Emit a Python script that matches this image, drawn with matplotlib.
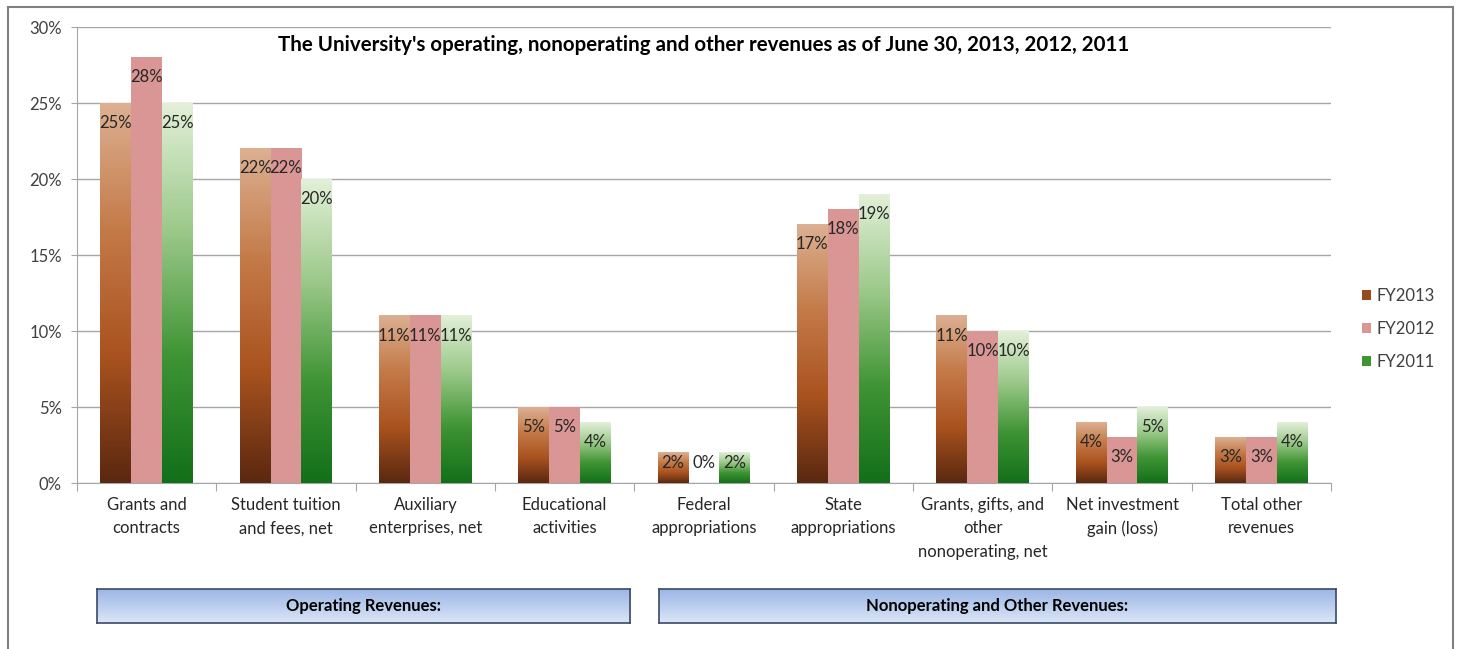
import numpy as np
import matplotlib
matplotlib.use("Agg")
import matplotlib.pyplot as plt
from matplotlib.colors import LinearSegmentedColormap
from matplotlib.patches import Rectangle, Patch

plt.rcParams["font.family"] = ["Lato", "DejaVu Sans"]

categories = [
    "Grants and\ncontracts",
    "Student tuition\nand fees, net",
    "Auxiliary\nenterprises, net",
    "Educational\nactivities",
    "Federal\nappropriations",
    "State\nappropriations",
    "Grants, gifts, and\nother\nnonoperating, net",
    "Net investment\ngain (loss)",
    "Total other\nrevenues",
]
series_names = ["FY2013", "FY2012", "FY2011"]
fy2013 = [25, 22, 11, 5, 2, 17, 11, 4, 3]
fy2012 = [28, 22, 11, 5, 0, 18, 10, 3, 3]
fy2011 = [25, 20, 11, 4, 2, 19, 10, 5, 4]
groups = ["Operating Revenues:", "Nonoperating and Other Revenues:"]
title = "The University's operating, nonoperating and other revenues as of June 30, 2013, 2012, 2011"

# bottom -> top colour ramps for each series
ramps = [
    ["#5a2810", "#a9521f", "#c47a48", "#dcb092"],
    ["#d99694", "#d99694"],
    ["#12701a", "#3f9434", "#9cc98a", "#e2f0d8"],
]
legend_cols = ["#9a4a20", "#d99694", "#3f9434"]
text_col = "#404040"
grid_col = "#a6a6a6"
fs = 12.0

fig = plt.figure(figsize=(14.6, 6.49), dpi=100)
ax = fig.add_axes([77 / 1460, 1 - 483 / 649, 1254 / 1460, 456 / 649])

x = np.arange(len(categories))
w = 0.222
values = [fy2013, fy2012, fy2011]
grad = np.linspace(0, 1, 256).reshape(-1, 1)

for s, vals in enumerate(values):
    cmap = LinearSegmentedColormap.from_list(f"ramp{s}", ramps[s])
    for i, v in enumerate(vals):
        x0 = x[i] + (s - 1) * w - w / 2
        if v > 0:
            ax.imshow(grad, cmap=cmap, origin="lower", aspect="auto",
                      extent=(x0, x0 + w, 0, v), zorder=3, interpolation="bilinear")
        ly = max(v - 1.3, 1.3)
        ax.text(x0 + w / 2, ly, f"{v}%", ha="center", va="center",
                fontsize=fs, color="#262626", zorder=5)

ax.set_xlim(-0.5, len(categories) - 0.5)
ax.set_ylim(0, 30)
ax.set_yticks(range(0, 31, 5))
ax.set_yticklabels([f"{t}%" for t in range(0, 31, 5)], fontsize=fs, color=text_col)
ax.yaxis.grid(True, color=grid_col, lw=1)
ax.set_axisbelow(True)

# category labels centred under each group, tick marks between groups
ax.set_xticks(np.arange(-0.5, len(categories)), minor=False)
ax.set_xticklabels([])
ax.tick_params(axis="x", length=6, color=grid_col, direction="out")
ax.tick_params(axis="y", length=4, color=grid_col, pad=7)
for i, lab in enumerate(categories):
    ax.text(x[i], -0.9, lab, ha="center", va="top", fontsize=fs,
            color="#262626", linespacing=1.6)

for side in ["top", "right"]:
    ax.spines[side].set_visible(False)
for side in ["left", "bottom"]:
    ax.spines[side].set_color(grid_col)

ax.text(0.5, 0.96, title, transform=ax.transAxes, ha="center", va="center",
        fontsize=14.8, fontweight="bold", color="black")

handles = [Patch(facecolor=c, edgecolor="none") for c in legend_cols]
fig.legend(handles, series_names, loc="center left", bbox_to_anchor=(1347 / 1460, 1 - 329 / 649),
           frameon=False, fontsize=fs, handlelength=0.55, handleheight=0.55,
           handletextpad=0.3, labelspacing=1.0, labelcolor=text_col)

# group boxes under the axis
box_cmap = LinearSegmentedColormap.from_list("box", ["#dce6f7", "#9cb6e6"])
for lab, (l, r) in zip(groups, [(97, 630), (659, 1336)]):
    bax = fig.add_axes([l / 1460, 1 - 623 / 649, (r - l) / 1460, 34 / 649])
    bax.imshow(grad, cmap=box_cmap, origin="lower", aspect="auto",
               extent=(0, 1, 0, 1), interpolation="bilinear")
    bax.set_xlim(0, 1)
    bax.set_ylim(0, 1)
    bax.set_xticks([])
    bax.set_yticks([])
    for sp in bax.spines.values():
        sp.set_color("#3a4a66")
        sp.set_linewidth(1.2)
    bax.text(0.5, 0.5, lab, ha="center", va="center", fontsize=fs,
             fontweight="bold", color="black")

fig.patches.append(Rectangle((8 / 1460, -0.05), 1445 / 1460, 1.05 - 7 / 649,
                             transform=fig.transFigure, fill=False,
                             edgecolor="#808080", lw=1.5))

fig.savefig("out.png", dpi=100)
